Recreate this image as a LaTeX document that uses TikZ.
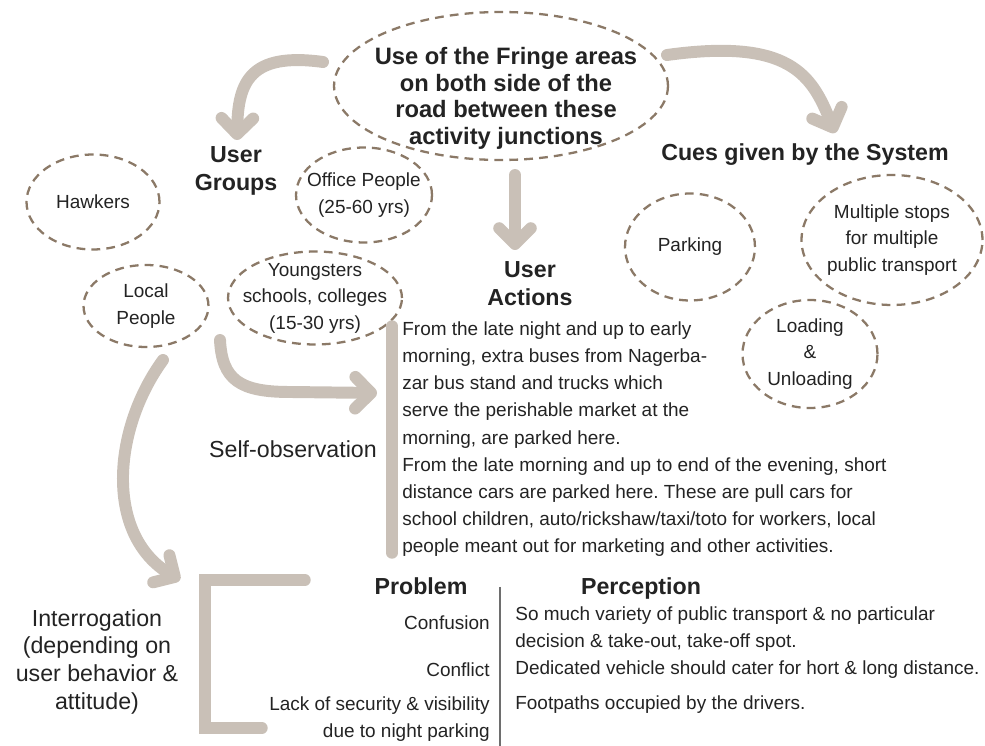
\documentclass[tikz,border=0pt]{standalone}
\usepackage{fontspec}
\setmainfont{Liberation Sans}
\usetikzlibrary{shapes.geometric,arrows.meta}
\definecolor{flowgrey}{RGB}{201,192,183}
\definecolor{dashbrown}{RGB}{139,121,103}
\definecolor{inkgrey}{RGB}{35,35,35}
\definecolor{rulegrey}{RGB}{110,110,110}
\frenchspacing

\begin{document}
\begin{tikzpicture}[x=0.02cm, y=-0.02cm, text=inkgrey,
    bubble/.style ={ellipse, draw=dashbrown, line width=1.3pt, dash pattern=on 5pt off 3.5pt,
      inner sep=-0.3cm, align=center, font=\fontsize{10.8}{15.1}\selectfont},
    heading/.style ={align=center, inner sep=0pt, font=\bfseries\fontsize{13.2}{15.9}\selectfont},
    plain/.style ={inner sep=0pt, font=\fontsize{10.8}{15.5}\selectfont},
    flow/.style ={draw=flowgrey, line width=6.8pt, line cap=round,
      -{Straight Barb[length=9pt, width=18pt, round]}},
    bar/.style ={draw=flowgrey, line width=6.5pt, line cap=round}]
   \useasboundingbox (0,0) rectangle (985,746);

   % centre bubble
   \node[bubble, minimum width=6.68cm, minimum height=2.96cm] (fringe) at (501,86) {};
   \node[heading, font=\bfseries\fontsize{13.5}{15.1}\selectfont, anchor=north] (fringetext) at (506,47)
     {Use of the Fringe areas\\on both side of the\\road between these\\activity junctions};

   % headings
   \node[heading, anchor=north] (groups) at (236,146) {User\\Groups};
   \node[heading, anchor=mid] (cues) at (805,156) {Cues given by the System};
   \node[heading, anchor=north] (actions) at (530,261) {User\\Actions};

   % user groups
   \node[bubble, minimum width=2.66cm, minimum height=1.9cm] (hawkers) at (93,202) {Hawkers};
   \node[bubble, minimum width=2.72cm, minimum height=1.9cm] (office) at (364,195) {Office People\\(25-60 yrs)};
   \node[bubble, minimum width=2.5cm, minimum height=1.64cm] (local) at (146,306) {Local\\People};
   \node[bubble, minimum width=3.48cm, minimum height=1.86cm] (young) at (315,298) {Youngsters\\schools, colleges\\(15-30 yrs)};

   % cues
   \node[bubble, minimum width=2.6cm, minimum height=2.14cm] (parking) at (690,247) {Parking};
   \node[bubble, minimum width=3.62cm, minimum height=2.6cm] (stops) at (892,240) {Multiple stops\\for multiple\\public transport};
   \node[bubble, minimum width=2.7cm, minimum height=2.16cm] (loading) at (810,354) {Loading\\\&\\Unloading};

   % user actions
   \node[plain, anchor=north west, align=left] (actiontext) at (402,321)
     {From the late night and up to early\\
      morning, extra buses from Nagerba-\\
      zar bus stand and trucks which\\
      serve the perishable market at the\\
      morning, are parked here.\\
      From the late morning and up to end of the evening, short\\
      distance cars are parked here. These are pull cars for\\
      school children, auto/rickshaw/taxi/toto for workers, local\\
      people meant out for marketing and other activities.};

   \node[plain, font=\fontsize{13.2}{15.8}\selectfont, anchor=mid] (selfobs) at (293,453) {Self-observation};
   \node[plain, font=\fontsize{13.2}{15.8}\selectfont, align=center, anchor=north] (interrog) at (97,609)
     {Interrogation\\(depending on\\user behavior \&\\attitude)};

   % problem / perception
   \node[heading, anchor=mid] (problem) at (421,590) {Problem};
   \node[heading, anchor=mid] (perception) at (641,590) {Perception};
   \node[plain, anchor=mid east] (confusion) at (490,625) {Confusion};
   \node[plain, anchor=mid east] (conflict) at (490,672) {Conflict};
   \node[plain, anchor=north east, align=right] (security) at (490,696)
     {Lack of security \& visibility\\due to night parking};
   \node[plain, anchor=north west, align=left] (variety) at (515,606)
     {So much variety of public transport \& no particular\\decision \& take-out, take-off spot.};
   \node[plain, anchor=mid west] (dedicated) at (515,670) {Dedicated vehicle should cater for hort \& long distance.};
   \node[plain, anchor=mid west] (footpath) at (515,705) {Footpaths occupied by the drivers.};

   % arrow ends
   \coordinate (grpstart) at (323,62);
   \coordinate (grpend) at (237,140);
   \coordinate (cuestart) at (667,55);
   \coordinate (cueend) at (835,133);
   \coordinate (actstart) at (515,175);
   \coordinate (actend) at (515,250);
   \coordinate (obsstart) at (220,340);
   \coordinate (obsend) at (377,393);
   \coordinate (intstart) at (163,360);
   \coordinate (intend) at (180,580);
   \coordinate (bartop) at (392,326);
   \coordinate (barbot) at (392,553);
   \coordinate (brA) at (305,580);
   \coordinate (brB) at (205,580);
   \coordinate (brC) at (205,728);
   \coordinate (brD) at (262,728);
   \coordinate (ruletop) at (500,587);
   \coordinate (rulebot) at (500,746);

   \draw[flow] (grpstart) .. controls (250,52) and (238,82) .. (grpend);
   \draw[flow] (cuestart) .. controls (790,38) and (812,75) .. (cueend);
   \draw[flow] (actstart) -- (actend);
   \draw[flow] (obsstart) .. controls (222,380) and (240,392) .. (290,392) -- (obsend);
   \draw[flow] (intstart) .. controls (112,430) and (105,535) .. (intend);
   \draw[bar] (bartop) -- (barbot);
   \draw[bar, line join=miter] (brA) -- (brB) -- (brC) -- (brD);
   \draw[rulegrey, line width=1.2pt] (ruletop) -- (rulebot);
\end{tikzpicture}
\end{document}
